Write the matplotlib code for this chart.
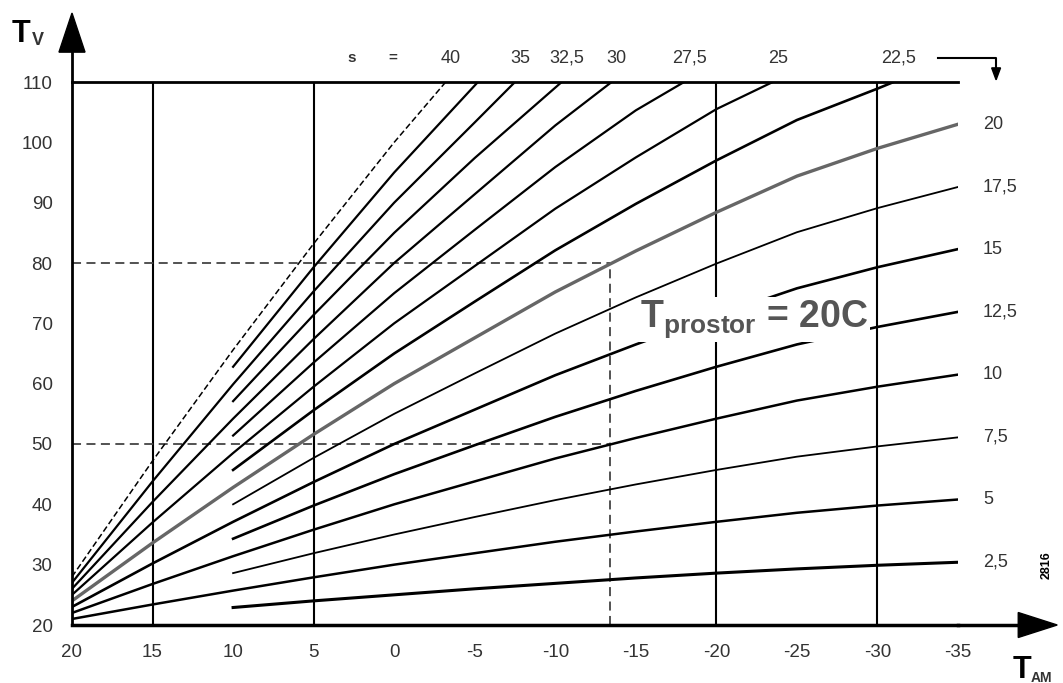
import matplotlib
matplotlib.use('Agg')
import matplotlib.pyplot as plt
from matplotlib.patches import Polygon

plt.rcParams['font.family'] = ['Liberation Sans', 'DejaVu Sans']
plt.rcParams['mathtext.default'] = 'regular'

# vanjska temperatura T_AM (os x)
t_all = [20, 15, 10, 5, 0, -5, -10, -15, -20, -25, -30, -35]
t_from10 = [10, 5, 0, -5, -10, -15, -20, -25, -30, -35]

# polazna temperatura T_V za svaku krivulju (strmina s)
tv_2_5 = [22.9, 24.0, 25.0, 26.0, 26.9, 27.8, 28.6, 29.3, 29.9, 30.4]
tv_5 = [21.0, 23.4, 25.7, 27.9, 30.0, 31.9, 33.8, 35.5, 37.1, 38.6, 39.8, 40.8]
tv_7_5 = [28.6, 31.9, 35.0, 37.9, 40.7, 43.3, 45.7, 47.9, 49.6, 51.1]
tv_10 = [22.0, 26.8, 31.4, 35.8, 40.0, 43.8, 47.6, 51.0, 54.2, 57.2, 59.5, 61.5]
tv_12_5 = [34.3, 39.8, 45.0, 49.8, 54.5, 58.8, 62.8, 66.5, 69.4, 71.9]
tv_15 = [23.0, 30.2, 37.1, 43.7, 50.0, 55.7, 61.4, 66.5, 71.3, 75.8, 79.3, 82.3]
tv_17_5 = [40.0, 47.7, 55.0, 61.7, 68.3, 74.3, 79.9, 85.1, 89.1, 92.6]
tv_20 = [24.0, 33.6, 42.8, 51.6, 60.0, 67.6, 75.2, 82.0, 88.4, 94.4, 99.0, 103.0]

# strme krivulje izlaze gore na 110
t_22_5 = [10, 5, 0, -5, -10, -15, -20, -25, -30, -31]
tv_22_5 = [45.7, 55.6, 65.0, 73.6, 82.1, 89.8, 97.0, 103.7, 108.9, 110]
t_25 = [20, 15, 10, 5, 0, -5, -10, -15, -20, -23.5]
tv_25 = [25.0, 37.0, 48.5, 59.5, 70.0, 79.5, 89.0, 97.5, 105.5, 110]
t_27_5 = [10, 5, 0, -5, -10, -15, -18]
tv_27_5 = [51.4, 63.5, 75.0, 85.5, 95.9, 105.3, 110]
t_30 = [20, 15, 10, 5, 0, -5, -10, -13.5]
tv_30 = [26.0, 40.4, 54.2, 67.4, 80.0, 91.4, 102.8, 110]
t_32_5 = [10, 5, 0, -5, -10.4]
tv_32_5 = [57.1, 71.4, 85.0, 97.4, 110]
t_35 = [20, 15, 10, 5, 0, -5, -7.5]
tv_35 = [27.0, 43.8, 59.9, 75.3, 90.0, 103.3, 110]
t_37_5 = [10, 5, 0, -5.2]
tv_37_5 = [62.8, 79.3, 95.0, 110]
t_40 = [20, 15, 10, 5, 0, -3.2]
tv_40 = [28.0, 47.2, 65.6, 83.2, 100.0, 110]

right_labels = ['2,5', '5', '7,5', '10', '12,5', '15', '17,5', '20']
top_labels = ['22,5', '25', '27,5', '30', '32,5', '35', '', '40']

grid_t = [15, 5, -20, -30]
ref_t = -13.4
ref_tv = [50, 80]

x_ticks = [20, 15, 10, 5, 0, -5, -10, -15, -20, -25, -30, -35]
x_ticklabels = ['20', '15', '10', '5', '0', '-5', '-10', '-15', '-20', '-25', '-30', '-35']
y_ticks = [20, 30, 40, 50, 60, 70, 80, 90, 100, 110]

low_curves = [
    (t_from10, tv_2_5, 2.2, 'black'),
    (t_all, tv_5, 1.8, 'black'),
    (t_from10, tv_7_5, 1.3, 'black'),
    (t_all, tv_10, 1.8, 'black'),
    (t_from10, tv_12_5, 1.9, 'black'),
    (t_all, tv_15, 1.9, 'black'),
    (t_from10, tv_17_5, 1.3, 'black'),
    (t_all, tv_20, 2.4, '#666666'),
]
high_curves = [
    (t_22_5, tv_22_5, 1.9),
    (t_25, tv_25, 1.6),
    (t_27_5, tv_27_5, 1.6),
    (t_30, tv_30, 1.6),
    (t_32_5, tv_32_5, 1.6),
    (t_35, tv_35, 1.6),
    (t_37_5, tv_37_5, 1.6),
]

fig = plt.figure(figsize=(10.63, 6.83), dpi=100)
ax = fig.add_axes([72 / 1063, 1 - 625 / 683, 886 / 1063, 543 / 683])
ax.set_xlim(20, -35)
ax.set_ylim(20, 110)

ax.spines['right'].set_visible(False)
ax.spines['top'].set_linewidth(2)
ax.spines['left'].set_linewidth(2)
ax.spines['bottom'].set_linewidth(2.5)

ax.set_xticks(x_ticks)
ax.set_xticklabels(x_ticklabels)
ax.set_yticks(y_ticks)
ax.tick_params(length=0, pad=14, labelsize=13.5, labelcolor='#333333')

for t in grid_t:
    ax.axvline(t, color='black', lw=1.5, zorder=1)

# isprekidane pomocne linije
for v in ref_tv:
    ax.plot([20, ref_t], [v, v], color='#444444', lw=1.3, ls=(0, (5, 3)), zorder=1)
ax.plot([ref_t, ref_t], [20, max(ref_tv)], color='#444444', lw=1.3, ls=(0, (5, 3)), zorder=1)

# krivulje grijanja
for (t, tv, lw, c), lab in zip(low_curves, right_labels):
    ax.plot(t, tv, color=c, lw=lw, zorder=2)
    ax.annotate(lab, xy=(t[-1], tv[-1]), xytext=(25, 0), textcoords='offset pixels',
                ha='left', va='center', fontsize=13, color='#333333', annotation_clip=False)

for (t, tv, lw), lab in zip(high_curves + [(t_40, tv_40, 1.1)], top_labels):
    ls = (0, (4, 2)) if t is t_40 else '-'
    ax.plot(t, tv, color='black', lw=lw, ls=ls, zorder=2)
    if lab:
        ax.annotate(lab, xy=(t[-1], tv[-1]), xytext=(5, 24), textcoords='offset pixels',
                    ha='center', va='center', fontsize=13, color='#333333', annotation_clip=False)

ax.text(0.316, 1.044, 's', transform=ax.transAxes, fontsize=11, weight='bold',
        ha='center', va='center', color='#333333')
ax.text(0.362, 1.044, '=', transform=ax.transAxes, fontsize=11, weight='bold',
        ha='center', va='center', color='#333333')

# strelice na osima
ax.plot([0, 0], [1, 1.06], transform=ax.transAxes, clip_on=False, color='black', lw=2)
ax.add_patch(Polygon([(-0.0147, 1.055), (0.0147, 1.055), (0, 1.127)], closed=True,
                     transform=ax.transAxes, clip_on=False, color='black'))
ax.plot([1, 1.07], [0, 0], transform=ax.transAxes, clip_on=False, color='black', lw=2.5)
ax.add_patch(Polygon([(1.068, -0.023), (1.068, 0.023), (1.112, 0)], closed=True,
                     transform=ax.transAxes, clip_on=False, color='black'))

# zagrada desno gore
ax.plot([0.977, 1.043, 1.043], [1.044, 1.044, 1.02], transform=ax.transAxes,
        clip_on=False, color='black', lw=1.5)
ax.add_patch(Polygon([(1.038, 1.026), (1.048, 1.026), (1.043, 1.004)], closed=True,
                     transform=ax.transAxes, clip_on=False, color='black'))

fig.text(12 / 1063, 1 - 42 / 683, 'T', fontsize=22, weight='bold', va='baseline')
fig.text(32 / 1063, 1 - 45 / 683, 'V', fontsize=13, weight='bold', va='baseline', color='#333333')
fig.text(1013 / 1063, 1 - 655 / 683, 'T', fontsize=22, weight='bold', va='top')
fig.text(1031 / 1063, 1 - 682 / 683, 'AM', fontsize=10, weight='bold', va='baseline', color='#333333')

fig.text(640 / 1063, 1 - 327 / 683, 'T$_{prostor}$ = 20C', fontsize=27, weight='bold',
         color='#555555', va='baseline', ha='left', zorder=5,
         bbox=dict(facecolor='white', edgecolor='none', pad=1))

fig.text(1047 / 1063, 1 - 565 / 683, '2816', rotation=90, fontsize=9, weight='bold',
         ha='center', va='center')

plt.savefig('out.png', dpi=100)
